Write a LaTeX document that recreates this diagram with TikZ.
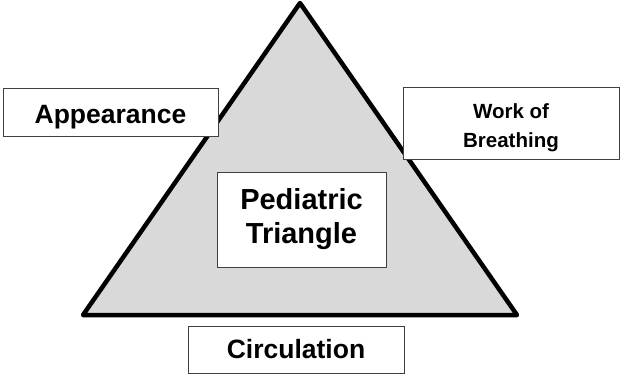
\documentclass[tikz,border=0pt]{standalone}
\usepackage{fontspec}
\setmainfont{Liberation Sans}
\begin{document}
\begin{tikzpicture}[x=1pt,y=-1pt,
  labelbox/.style={draw=black!75,line width=0.9pt,fill=white,align=center,
    font=\bfseries,inner sep=0pt}]
\useasboundingbox (0,0) rectangle (626,375);
% triangle corners
\coordinate (top) at (300,3);
\coordinate (botleft) at (83,315);
\coordinate (botright) at (517,315);
\draw[line width=4.5pt,line join=round,fill=black!15] (top) -- (botleft) -- (botright) -- cycle;
% the four labels
\node[labelbox,minimum width=215pt,minimum height=48pt,text height=24pt,text depth=2pt,
  font=\bfseries\fontsize{26.5}{30}\selectfont] (appear) at (110.5,112) {Appearance};
\node[labelbox,minimum width=216pt,minimum height=72pt] (breath) at (511,123) {};
\node[align=center,inner sep=0pt,yshift=-4.5pt,font=\bfseries\fontsize{20.5}{29}\selectfont]
  (breathtxt) at (breath) {Work of\\Breathing};
\node[labelbox,minimum width=169pt,minimum height=95pt,font=\bfseries\fontsize{29}{34}\selectfont] (pedtri) at (301.5,219.5) {Pediatric\\Triangle};
\node[labelbox,minimum width=216pt,minimum height=47pt,font=\bfseries\fontsize{26.5}{30}\selectfont] (circ) at (296,349.5) {Circulation};
\end{tikzpicture}
\end{document}
